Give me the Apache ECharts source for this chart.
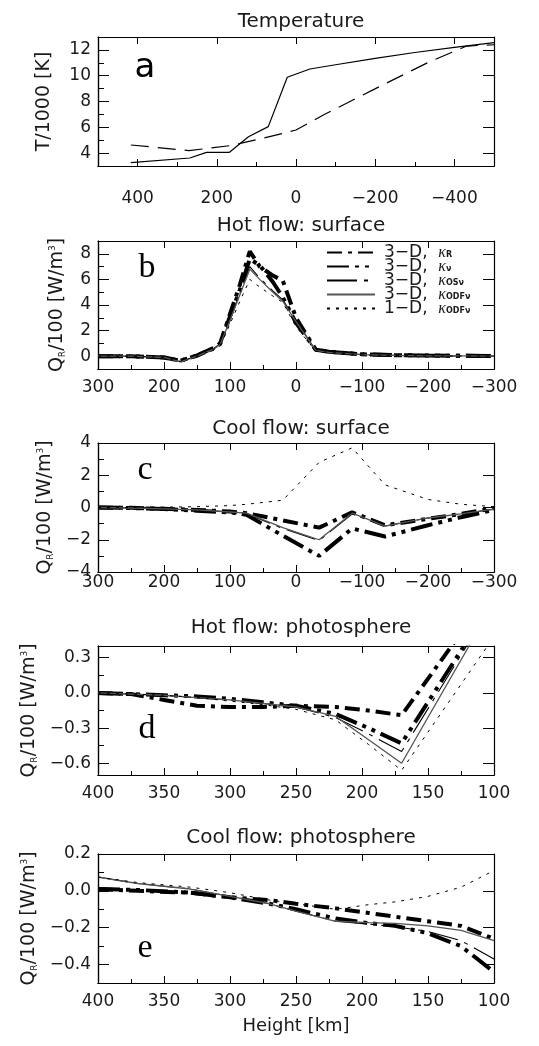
<!DOCTYPE html>
<html>
<head>
<meta charset="utf-8">
<script src="https://cdn.jsdelivr.net/npm/echarts@6/dist/echarts.min.js"></script>
<style>
  html, body { margin: 0; padding: 0; background: #fff; }
  .panel { position: absolute; left: 0; width: 539px; }
</style>
</head>
<body>
<div id="pa" class="panel" style="top:0;height:210px"></div>
<div id="pb" class="panel" style="top:210px;height:196px"></div>
<div id="pc" class="panel" style="top:406px;height:204px"></div>
<div id="pd" class="panel" style="top:610px;height:212px"></div>
<div id="pe" class="panel" style="top:822px;height:224px"></div>
<script>
// ---- panel a: temperature ----
const tempSolidX = [417, 268, 226, 168, 120, 70, 22, -35, -100, -200, -300, -400, -500];
const tempSolidY = [3.26, 3.62, 4.06, 4.06, 5.27, 6.05, 9.88, 10.52, 10.85, 11.35, 11.8, 12.2, 12.56];
const tempDashX = [417, 270, 168, 83, 0, -69, -202, -338, -431, -500];
const tempDashY = [4.63, 4.19, 4.57, 5.15, 5.79, 6.95, 9.02, 11.09, 12.3, 12.4];

// ---- panel b: hot flow, surface ----
const hotSurfX = [300, 250, 200, 175, 150, 125, 115, 100, 85, 70, 55, 35, 20, 0, -30, -50, -100, -150, -200, -250, -300];
const hotSurfKR = [0, 0, -0.1, -0.35, 0.05, 0.6, 1.0, 3.3, 5.6, 8.2, 7.0, 6.3, 5.9, 3.0, 0.5, 0.35, 0.15, 0.08, 0.05, 0.03, 0.02];
const hotSurfKnu = [0, 0, -0.1, -0.35, 0.05, 0.65, 0.95, 3.1, 5.2, 7.6, 7.1, 5.8, 4.6, 2.6, 0.5, 0.35, 0.15, 0.08, 0.05, 0.03, 0.02];
const hotSurfKOS = [0, 0, -0.1, -0.45, 0.0, 0.6, 0.95, 2.9, 4.9, 7.0, 6.1, 5.1, 4.4, 2.8, 0.45, 0.32, 0.13, 0.06, 0.03, 0.02, 0.01];
const hotSurfKODF = [0, 0, -0.1, -0.45, 0.0, 0.55, 0.9, 2.8, 4.8, 6.8, 6.0, 5.0, 4.3, 2.7, 0.45, 0.3, 0.12, 0.06, 0.03, 0.02, 0.01];
const hotSurf1D = [0, 0, -0.1, -0.4, 0.0, 0.5, 0.8, 2.5, 4.3, 6.0, 5.4, 4.7, 4.2, 2.3, 0.4, 0.3, 0.1, 0.05, 0.02, 0.01, 0];

// ---- panel c: cool flow, surface ----
const coolSurfX = [300, 250, 200, 150, 100, 75, 20, -35, -85, -135, -200, -250, -300];
const coolSurfKR = [0, -0.02, -0.08, -0.15, -0.25, -0.35, -0.8, -1.25, -0.3, -1.1, -0.7, -0.4, -0.05];
const coolSurfKnu = [0, -0.03, -0.1, -0.2, -0.3, -0.45, -1.75, -3.0, -1.3, -1.8, -1.1, -0.6, -0.15];
const coolSurfKOS = [0, -0.03, -0.08, -0.15, -0.28, -0.38, -1.3, -2.05, -0.4, -1.15, -0.65, -0.4, -0.1];
const coolSurfKODF = [0, -0.03, -0.08, -0.15, -0.28, -0.35, -1.25, -2.0, -0.35, -1.15, -0.65, -0.4, -0.1];
const coolSurf1D = [0, 0, 0.02, 0.05, 0.12, 0.2, 0.45, 2.8, 3.7, 1.4, 0.5, 0.2, 0.05];

// ---- panel d: hot flow, photosphere ----
const hotPhotX = [400, 375, 350, 325, 300, 275, 250, 220, 195, 170, 100];
const hotPhotKR = [0, -0.01, -0.06, -0.11, -0.12, -0.12, -0.11, -0.12, -0.15, -0.19, 0.9];
const hotPhotKnu = [0, -0.01, -0.02, -0.03, -0.05, -0.08, -0.11, -0.18, -0.3, -0.43, 0.8];
const hotPhotKOS = [0, -0.01, -0.02, -0.04, -0.06, -0.09, -0.12, -0.21, -0.35, -0.5, 0.78];
const hotPhotKODF = [0, -0.01, -0.02, -0.04, -0.06, -0.09, -0.12, -0.2, -0.4, -0.6, 0.77];
const hotPhot1D = [0, -0.01, -0.02, -0.04, -0.07, -0.1, -0.14, -0.23, -0.44, -0.66, 0.48];

// ---- panel e: cool flow, photosphere ----
const coolPhotX = [400, 370, 330, 300, 270, 250, 220, 195, 175, 150, 125, 100];
const coolPhotKR = [0.01, 0.0, -0.01, -0.035, -0.05, -0.07, -0.095, -0.12, -0.14, -0.165, -0.19, -0.26];
const coolPhotKnu = [0.01, 0.005, -0.01, -0.035, -0.07, -0.1, -0.15, -0.175, -0.19, -0.23, -0.3, -0.44];
const coolPhotKOS = [0.075, 0.04, 0.01, -0.03, -0.07, -0.11, -0.165, -0.18, -0.195, -0.22, -0.27, -0.37];
const coolPhotKODF = [0.075, 0.04, 0.01, -0.03, -0.07, -0.11, -0.165, -0.172, -0.176, -0.19, -0.215, -0.27];
const coolPhot1D = [0.075, 0.045, 0.02, -0.01, -0.05, -0.07, -0.1, -0.075, -0.06, -0.03, 0.02, 0.11];

const legendNames = ['kR', 'knu', 'kOS', 'kODF', 'k1D'];
const legendLabels = {
  kR: '3\u2212D,  {k|\u03ba}{s|R}',
  knu: '3\u2212D,  {k|\u03ba}{s|\u03bd}',
  kOS: '3\u2212D,  {k|\u03ba}{s|OS\u03bd}',
  kODF: '3\u2212D,  {k|\u03ba}{s|ODF\u03bd}',
  k1D: '1\u2212D,  {k|\u03ba}{s|ODF\u03bd}'
};

const FONT = 'DejaVu Sans';
const SERIF = 'Liberation Serif';
const INK = '#1a1a1a';

const styles = {
  kR: { color: '#000', width: 4, type: [15, 6, 4, 6] },
  knu: { color: '#000', width: 4, type: [22, 6, 4, 6, 4, 6] },
  kOS: { color: '#000', width: 1.1, type: [30, 7, 4, 7] },
  kODF: { color: '#555', width: 1.3, type: 'solid' },
  k1D: { color: '#000', width: 1, type: [3, 6] }
};

const qName = 'Q{s|R}/100 [W/m{p|3}]';
const surfX = { x: [-300, 300], xMaj: [300, 200, 100, 0, -100, -200, -300], xMin: [250, 150, 50, -50, -150, -250] };
const photX = { x: [100, 400], xMaj: [400, 350, 300, 250, 200, 150, 100], xMin: [375, 325, 275, 225, 175, 125] };

const panels = [
  { id: 'pa', title: 'Temperature', titleTop: 7, gridTop: 37, height: 129, letter: 'a', letterFont: FONT, letterXY: [140, 63],
    x: [-500, 500], xMaj: [400, 200, 0, -200, -400], xMin: [300, 100, -100, -300], xMargin: 24,
    y: [3, 13], yMaj: [4, 6, 8, 10, 12], yMin: [5, 7, 9, 11], yDec: 0, yName: 'T/1000 [K]', yGap: 44,
    series: [['Tsolid', tempSolidX, tempSolidY, { color: '#000', width: 1.2, type: 'solid' }],
             ['Tdash', tempDashX, tempDashY, { color: '#000', width: 1.2, type: [18, 9] }]] },
  Object.assign({ id: 'pb', title: 'Hot flow: surface', titleTop: 1, gridTop: 31, height: 128, letter: 'b', letterFont: SERIF, letterXY: [142, 53],
    xMargin: 10, y: [-1, 9], yMaj: [0, 2, 4, 6, 8], yMin: [1, 3, 5, 7], yDec: 0, yName: qName, yGap: 31, legend: true,
    data: [hotSurfX, hotSurfKR, hotSurfKnu, hotSurfKOS, hotSurfKODF, hotSurf1D] }, surfX),
  Object.assign({ id: 'pc', title: 'Cool flow: surface', titleTop: 8, gridTop: 37, height: 129, letter: 'c', letterFont: SERIF, letterXY: [140, 59],
    xMargin: 2, y: [-4, 4], yMaj: [-4, -2, 0, 2, 4], yMin: [-3, -1, 1, 3], yDec: 0, yName: qName, yGap: 31,
    data: [coolSurfX, coolSurfKR, coolSurfKnu, coolSurfKOS, coolSurfKODF, coolSurf1D] }, surfX),
  Object.assign({ id: 'pd', title: 'Hot flow: photosphere', titleTop: 3, gridTop: 36, height: 129, letter: 'd', letterFont: SERIF, letterXY: [142, 114],
    xMargin: 10, y: [-0.7, 0.4], yMaj: [-0.6, -0.3, 0, 0.3], yMin: [-0.45, -0.15, 0.15], yDec: 1, yName: qName, yGap: 31,
    data: [hotPhotX, hotPhotKR, hotPhotKnu, hotPhotKOS, hotPhotKODF, hotPhot1D] }, photX),
  Object.assign({ id: 'pe', title: 'Cool flow: photosphere', titleTop: 1, gridTop: 32, height: 129, letter: 'e', letterFont: SERIF, letterXY: [140, 121],
    xMargin: 10, y: [-0.5, 0.2], yMaj: [-0.4, -0.2, 0, 0.2], yMin: [-0.3, -0.1, 0.1], yDec: 1, yName: qName, yGap: 31, xName: 'Height [km]',
    data: [coolPhotX, coolPhotKR, coolPhotKnu, coolPhotKOS, coolPhotKODF, coolPhot1D] }, photX)
];

function fmt(dec) {
  return v => (v < -1e-9 ? '\u2212' : '') + Math.abs(v).toFixed(dec);
}

function axisBase(min, max, inverse) {
  const a = {
    type: 'value', gridIndex: 0, min: min, max: max,
    axisLine: { show: true, onZero: false, lineStyle: { color: '#000', width: 1.2 } },
    splitLine: { show: false }
  };
  if (inverse) a.inverse = true;
  return a;
}
function ticks(vals, len) {
  return { show: true, inside: true, length: len, customValues: vals, lineStyle: { color: '#000', width: 1 } };
}

function line(name, xs, ys, style) {
  return {
    type: 'line', name: name,
    data: xs.map((x, k) => [x, ys[k]]),
    symbol: 'none',
    lineStyle: style
  };
}

const charts = panels.map(p => {
  const xMain = Object.assign(axisBase(p.x[0], p.x[1], true), {
    position: 'bottom', axisTick: ticks(p.xMaj, 7),
    axisLabel: { show: true, customValues: p.xMaj, formatter: fmt(0), margin: p.xMargin, fontFamily: FONT, fontSize: 17, color: INK }
  });
  if (p.xName) {
    Object.assign(xMain, { name: p.xName, nameLocation: 'middle', nameGap: 34,
      nameTextStyle: { fontFamily: FONT, fontSize: 18, color: INK } });
  }
  const xAxes = [
    xMain,
    Object.assign(axisBase(p.x[0], p.x[1], true), { position: 'bottom', axisTick: ticks(p.xMin, 4), axisLabel: { show: false } }),
    Object.assign(axisBase(p.x[0], p.x[1], true), { position: 'top', axisTick: ticks(p.xMaj, 7), axisLabel: { show: false } })
  ];
  const yAxes = [
    Object.assign(axisBase(p.y[0], p.y[1], false), {
      position: 'left', axisTick: ticks(p.yMaj, 11),
      axisLabel: { show: true, customValues: p.yMaj, formatter: fmt(p.yDec), margin: 7, fontFamily: FONT, fontSize: 17, color: INK },
      name: p.yName, nameLocation: 'middle', nameGap: p.yGap,
      nameTextStyle: {
        fontFamily: FONT, fontSize: 19, color: INK,
        rich: {
          s: { fontFamily: FONT, fontSize: 9, color: INK, verticalAlign: 'bottom' },
          p: { fontFamily: FONT, fontSize: 9, color: INK, verticalAlign: 'top' }
        }
      }
    }),
    Object.assign(axisBase(p.y[0], p.y[1], false), { position: 'left', axisTick: ticks(p.yMin, 6), axisLabel: { show: false } }),
    Object.assign(axisBase(p.y[0], p.y[1], false), { position: 'right', axisTick: ticks(p.yMaj, 11), axisLabel: { show: false } })
  ];

  const series = p.series
    ? p.series.map(s => line(s[0], s[1], s[2], s[3]))
    : legendNames.map((n, j) => line(n, p.data[0], p.data[j + 1], styles[n]));

  const option = {
    animation: false,
    title: [
      { text: p.title, left: 296, top: p.titleTop, textAlign: 'center',
        textStyle: { fontFamily: FONT, fontSize: 20, fontWeight: 'normal', color: INK } },
      { text: p.letter, left: p.letterXY[0], top: p.letterXY[1], textAlign: 'center', textVerticalAlign: 'middle',
        textStyle: { fontFamily: p.letterFont, fontSize: 34, fontWeight: 'normal', color: '#000' } }
    ],
    grid: { left: 98, top: p.gridTop, width: 396, height: p.height },
    xAxis: xAxes,
    yAxis: yAxes,
    series: series
  };
  if (p.legend) {
    option.legend = {
      data: legendNames,
      orient: 'vertical',
      left: 321,
      top: 29,
      itemWidth: 48,
      itemHeight: 10,
      itemGap: -3,
      selectedMode: false,
      itemStyle: { opacity: 0 },
      formatter: n => legendLabels[n],
      textStyle: {
        fontFamily: FONT, fontSize: 17, color: INK, lineHeight: 13, padding: [0, 0, 0, 4],
        rich: {
          k: { fontFamily: SERIF, fontStyle: 'italic', fontSize: 16, color: INK, lineHeight: 13 },
          s: { fontFamily: FONT, fontSize: 8, fontWeight: 'bold', color: INK, lineHeight: 13, verticalAlign: 'bottom' }
        }
      }
    };
  }
  const chart = echarts.init(document.getElementById(p.id));
  chart.setOption(option);
  return chart;
});

window.addEventListener('resize', () => charts.forEach(c => c.resize()));
</script>
</body>
</html>
